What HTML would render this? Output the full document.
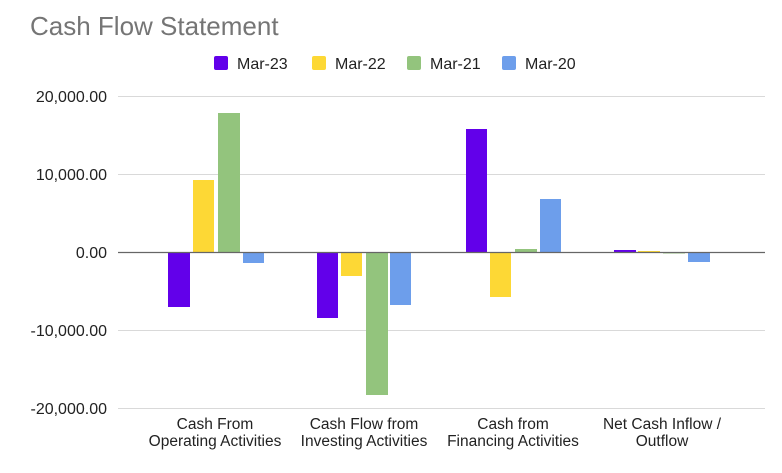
<!DOCTYPE html>
<html><head><meta charset="utf-8"><style>
body{margin:0;background:#fff}
svg text{font-family:"Liberation Sans",Arial,sans-serif}
</style></head><body>
<svg width="782" height="468" viewBox="0 0 782 468" xmlns="http://www.w3.org/2000/svg">
<rect width="782" height="468" fill="#fff"/>
<text x="30" y="35" font-size="26" fill="#757575">Cash Flow Statement</text>
<g font-size="16" fill="#222">
<rect x="214" y="56" width="14" height="14" rx="2" fill="#6200ea"/><text x="237" y="69">Mar-23</text>
<rect x="312" y="56" width="14" height="14" rx="2" fill="#fdd835"/><text x="335" y="69">Mar-22</text>
<rect x="407" y="56" width="14" height="14" rx="2" fill="#93c47d"/><text x="430" y="69">Mar-21</text>
<rect x="502" y="56" width="14" height="14" rx="2" fill="#6d9eeb"/><text x="525" y="69">Mar-20</text>
</g>
<g stroke="#d9d9d9" stroke-width="1">
<line x1="118" x2="765" y1="96.5" y2="96.5"/>
<line x1="118" x2="765" y1="174.5" y2="174.5"/>
<line x1="118" x2="765" y1="330.5" y2="330.5"/>
<line x1="118" x2="765" y1="408.5" y2="408.5"/>
</g>
<g font-size="16" fill="#222" text-anchor="end">
<text x="107" y="102">20,000.00</text>
<text x="107" y="180">10,000.00</text>
<text x="107" y="258">0.00</text>
<text x="107" y="336">-10,000.00</text>
<text x="107" y="414">-20,000.00</text>
</g>
<g>
<rect x="168" y="252" width="22" height="55" fill="#6200ea"/>
<rect x="193" y="180" width="21" height="72" fill="#fdd835"/>
<rect x="218" y="113" width="22" height="139" fill="#93c47d"/>
<rect x="243" y="252" width="21" height="11" fill="#6d9eeb"/>
<rect x="317" y="252" width="21" height="66" fill="#6200ea"/>
<rect x="341" y="252" width="21" height="24" fill="#fdd835"/>
<rect x="366" y="252" width="22" height="143" fill="#93c47d"/>
<rect x="390" y="252" width="21" height="53" fill="#6d9eeb"/>
<rect x="466" y="129" width="21" height="123" fill="#6200ea"/>
<rect x="490" y="252" width="21" height="45" fill="#fdd835"/>
<rect x="515" y="249" width="22" height="3" fill="#93c47d"/>
<rect x="540" y="199" width="21" height="53" fill="#6d9eeb"/>
<rect x="614" y="250" width="22" height="2" fill="#6200ea"/>
<rect x="638" y="251" width="22" height="1.5" fill="#fdd835"/>
<rect x="663" y="252" width="22" height="1.5" fill="#93c47d"/>
<rect x="688" y="252" width="22" height="10" fill="#6d9eeb"/>
</g>
<line x1="118" x2="765" y1="252.5" y2="252.5" stroke="#666" stroke-width="1.2"/>
<g font-size="15.5" fill="#222" text-anchor="middle">
<text x="215" y="429">Cash From</text><text x="215" y="446">Operating Activities</text>
<text x="364" y="429">Cash Flow from</text><text x="364" y="446">Investing Activities</text>
<text x="513" y="429">Cash from</text><text x="513" y="446">Financing Activities</text>
<text x="662" y="429">Net Cash Inflow /</text><text x="662" y="446">Outflow</text>
</g>
</svg>
</body></html>
